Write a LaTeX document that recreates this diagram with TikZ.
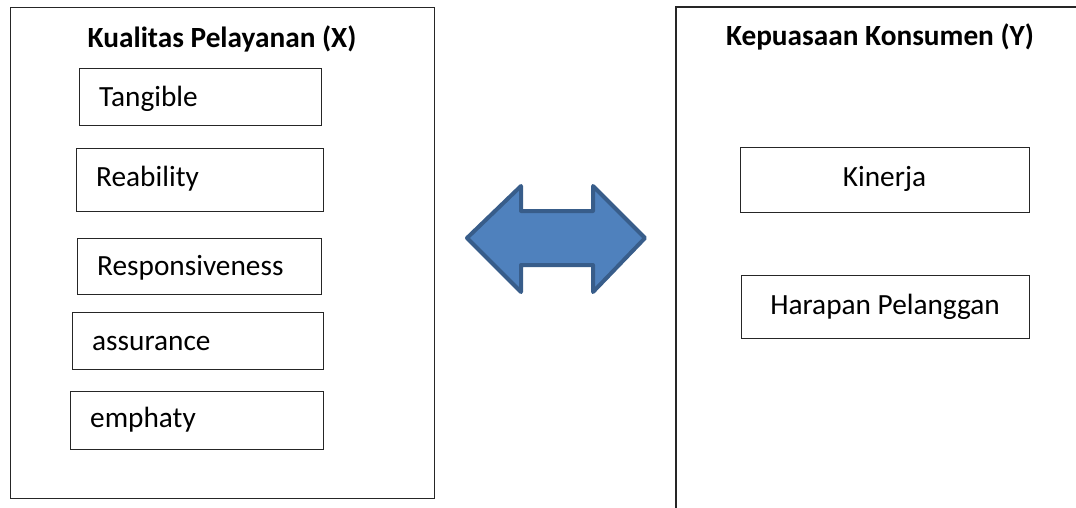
\documentclass[tikz,border=0pt]{standalone}
\usepackage{fontspec}
\setmainfont{Carlito}
\begin{document}
\begin{tikzpicture}[x=1pt,y=-1pt,
  box/.style={draw=black!85,line width=1.1pt,anchor=north west,inner sep=0pt},
  lbl/.style={anchor=base west,inner sep=0pt,font=\fontsize{29.3}{35}\selectfont},
  clbl/.style={anchor=base,inner sep=0pt,font=\fontsize{29.3}{35}\selectfont},
  ttl/.style={anchor=base,inner sep=0pt,font=\fontsize{29.3}{35}\selectfont\bfseries},
  bigarrow/.style={fill=arrowfill,draw=arrowline,line width=4pt,line join=round}]
\definecolor{arrowfill}{HTML}{4F81BD}
\definecolor{arrowline}{HTML}{385D8A}
\useasboundingbox (0,0) rectangle (1076,507);
% left panel
\node[box,minimum width=424pt,minimum height=491pt] (left) at (10,7) {};
\node[ttl] (ltitle) at (222,47) {Kualitas Pelayanan (X)};
\node[box,minimum width=242pt,minimum height=57pt] (b1) at (79,68) {};
\node[lbl] (t1) at (99,106) {Tangible};
\node[box,minimum width=247pt,minimum height=63pt] (b2) at (76,148) {};
\node[lbl] (t2) at (96,186) {Reability};
\node[box,minimum width=244pt,minimum height=56pt] (b3) at (77,238) {};
\node[lbl] (t3) at (97,275) {Responsiveness};
\node[box,minimum width=251pt,minimum height=57pt] (b4) at (72,312) {};
\node[lbl] (t4) at (92,350) {assurance};
\node[box,minimum width=253pt,minimum height=58pt] (b5) at (70,391) {};
\node[lbl] (t5) at (90,427.5) {emphaty};
% right panel (open to the right and bottom)
\draw[draw=black!85,line width=1.1pt] (676,510) -- (676,7) -- (1080,7);
\node[ttl] (rtitle) at (880,45) {Kepuasaan Konsumen (Y)};
\node[box,minimum width=289pt,minimum height=65pt] (k1) at (740,147) {};
\node[clbl] (kt1) at (884.5,186) {Kinerja};
\node[box,minimum width=288pt,minimum height=63pt] (k2) at (741,275) {};
\node[clbl] (kt2) at (885,314) {Harapan Pelanggan};
% double arrow
\draw[bigarrow] (467,238) -- (521,186) -- (521,211) -- (593,211) -- (593,186)
  -- (645,238) -- (593,292) -- (593,265) -- (521,265) -- (521,292) -- cycle;
\end{tikzpicture}
\end{document}
